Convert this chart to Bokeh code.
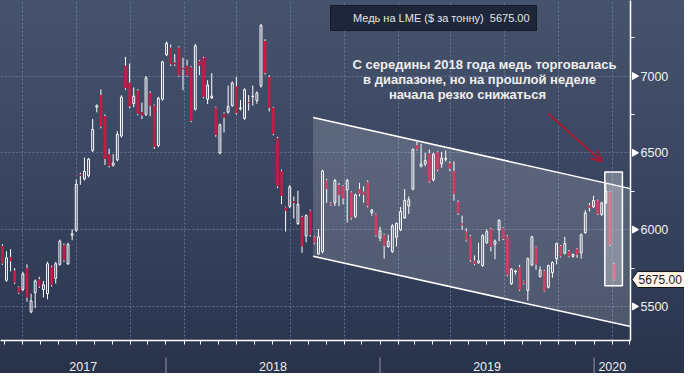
import math
import pandas as pd
from bokeh.plotting import figure
from bokeh.models import (FixedTicker, MonthsTicker, CustomJSTickFormatter, Label,
                          Legend, LegendItem, Arrow, OpenHead, ColumnDataSource)
from bokeh.core.properties import value
from bokeh.embed import file_html
from bokeh.resources import INLINE

# ---------------- data (weekly LME copper, $/t) ----------------
first_week = "2017-03-28"
opens = [5894, 5670, 5822, 5732, 5625, 5610, 5749, 5465, 5589, 5676,
         5610, 5583, 5753, 5682, 5774, 5898, 5778, 5963, 5996, 6359,
         6330, 6351, 6516, 6797, 6876, 6739, 6490, 6419, 6454, 6610,
         7067, 6956, 6821, 6905, 6765, 6751, 6890, 6807, 6548, 6849,
         7139, 7185, 7087, 7185, 7052, 7067, 7056, 6784, 7098, 7118,
         6849, 6859, 6793, 6499, 6755, 6765, 6807, 6932, 6787, 6724,
         6831, 6865, 6841, 6937, 7228, 6994, 6793, 6594, 6382, 6143,
         6152, 6185, 6040, 6082, 5959, 6122, 5953, 5842, 5857, 6320,
         6174, 6174, 6289, 6282, 6258, 6241, 6085, 6264, 6247, 6309,
         6112, 6098, 5946, 5967, 5890, 5857, 5950, 5998, 6077, 6154,
         6264, 6548, 6413, 6429, 6496, 6324, 6502, 6429, 6458, 6434,
         6382, 6180, 6040, 5987, 5956, 5797, 5784, 5766, 5915, 6004,
         5905, 5998, 6009, 5956, 5648, 5724, 5755, 5662, 5604, 5770,
         5883, 5695, 5730, 5625, 5720, 5811, 5892, 5846, 5861, 5826,
         5874, 5849, 5981, 6160, 6149, 6188, 6098, 6174, 6244, 5777]
highs = [5905, 5859, 5873, 5749, 5632, 5724, 5774, 5583, 5675, 5693,
         5666, 5790, 5765, 5790, 5935, 5910, 5915, 6002, 6326, 6370,
         6469, 6467, 6720, 6815, 6913, 6750, 6527, 6492, 6641, 6875,
         7125, 7081, 6925, 6915, 6828, 7000, 6900, 6815, 6865, 7100,
         7226, 7205, 7143, 7195, 7118, 7106, 7065, 7210, 7105, 7125,
         6973, 7019, 6800, 6690, 6765, 6938, 6965, 6994, 6844, 6920,
         6876, 6938, 6900, 7340, 7240, 7005, 6800, 6604, 6390, 6150,
         6290, 6216, 6253, 6090, 6100, 6130, 5960, 6004, 6390, 6330,
         6180, 6330, 6305, 6290, 6330, 6250, 6235, 6305, 6282, 6320,
         6135, 6105, 6019, 5975, 5967, 6035, 6048, 6147, 6264, 6216,
         6530, 6575, 6558, 6500, 6521, 6500, 6510, 6506, 6516, 6444,
         6444, 6190, 6091, 6009, 5965, 5832, 5915, 5970, 6002, 6012,
         5935, 6068, 6016, 5965, 5749, 5738, 5770, 5668, 5818, 5960,
         5890, 5760, 5738, 5772, 5793, 5916, 5900, 5953, 5868, 5845,
         5880, 5975, 6127, 6174, 6220, 6195, 6182, 6299, 6250, 5785]
lows = [5770, 5660, 5728, 5645, 5580, 5600, 5531, 5455, 5489, 5620,
        5558, 5546, 5630, 5649, 5765, 5790, 5770, 5931, 5985, 6292,
        6320, 6340, 6505, 6764, 6660, 6421, 6405, 6410, 6445, 6600,
        6910, 6790, 6797, 6745, 6720, 6740, 6739, 6525, 6535, 6840,
        7130, 7065, 7065, 6995, 6907, 6995, 6700, 6775, 7006, 6855,
        6818, 6850, 6605, 6490, 6633, 6755, 6800, 6750, 6776, 6715,
        6776, 6807, 6820, 6925, 7010, 6770, 6615, 6270, 6166, 5987,
        6140, 6073, 6030, 5849, 5917, 5955, 5905, 5835, 5845, 6174,
        6155, 6154, 6154, 6164, 6046, 6065, 6075, 6216, 6174, 6145,
        6091, 5955, 5925, 5811, 5882, 5848, 5890, 5990, 6070, 6102,
        6255, 6515, 6405, 6413, 6305, 6315, 6380, 6403, 6444, 6382,
        6189, 6095, 5998, 5922, 5790, 5768, 5778, 5758, 5908, 5857,
        5807, 5925, 5932, 5697, 5640, 5707, 5600, 5642, 5537, 5762,
        5738, 5688, 5597, 5617, 5687, 5774, 5818, 5838, 5820, 5818,
        5816, 5811, 5973, 6118, 6141, 6095, 6090, 6166, 5893, 5668]
closes = [5780, 5816, 5794, 5656, 5589, 5712, 5558, 5536, 5666, 5631,
          5641, 5778, 5641, 5778, 5925, 5801, 5903, 5973, 6295, 6351,
          6380, 6459, 6652, 6807, 6672, 6460, 6415, 6434, 6620, 6863,
          6921, 6803, 6869, 6755, 6745, 6988, 6807, 6538, 6855, 7092,
          7212, 7077, 7077, 7004, 7045, 7004, 6709, 7197, 7067, 6863,
          6942, 6869, 6616, 6683, 6729, 6801, 6955, 6760, 6793, 6911,
          6825, 6869, 6890, 7330, 7021, 6792, 6625, 6282, 6220, 6122,
          6278, 6174, 6164, 5892, 6091, 5967, 5914, 5953, 6382, 6264,
          6164, 6320, 6226, 6205, 6320, 6075, 6226, 6233, 6226, 6154,
          6127, 5963, 5992, 5894, 5925, 6025, 6040, 6118, 6189, 6195,
          6521, 6523, 6427, 6449, 6314, 6490, 6388, 6465, 6463, 6398,
          6233, 6106, 6029, 5931, 5801, 5776, 5797, 5961, 5987, 5890,
          5925, 6060, 5940, 5705, 5743, 5730, 5607, 5649, 5811, 5953,
          5773, 5735, 5604, 5766, 5786, 5909, 5826, 5909, 5827, 5838,
          5838, 5967, 6108, 6143, 6189, 6102, 6174, 6251, 5902, 5675]

y_ticks = [5500, 6000, 6500, 7000]
y_minor_ticks = [5750, 6250, 6750, 7250]
last_price = 5675.00
series_name = "Медь на LME ($ за тонну)"
note_lines = ["С середины 2018 года медь торговалась",
              "в диапазоне, но на прошлой неделе",
              "начала резко снижаться"]
# trading channel (start date, upper values at start/end, lower values at start/end)
channel_start = "2018-09-08 19:00"
channel_upper = [6730, 6267]
channel_lower = [5826, 5369]
# highlighted last weeks
box_dates = ["2020-01-19 07:00", "2020-02-18 07:00"]
box_values = [5635, 6376]
# arrow
arrow_dates = ["2019-10-14 17:00", "2020-01-14 07:00"]
arrow_values = [6755, 6444]

# ---------------- layout constants ----------------
W, H = 684, 373
BR, BB = 54, 32
FW, FH = W - BR, H - BB
x_start = pd.Timestamp("2017-03-24 20:00")
x_end = pd.Timestamp("2020-03-03 02:00")
y_lo, y_hi = 5278, 7492
RED = "#c81a42"
WHITE = "#ffffff"
DAY = 86400000.0


def ms(t):
    return pd.Timestamp(t).value / 1e6


def px_x(px):  # frame pixel -> ms
    return ms(x_start) + px / FW * (ms(x_end) - ms(x_start))


def px_y(px_below):  # pixels below frame bottom -> value
    return y_lo - px_below * (y_hi - y_lo) / FH


dates = pd.date_range(first_week, periods=len(opens), freq="7D")
df = pd.DataFrame(dict(date=dates, open=opens, high=highs, low=lows, close=closes))
df["top"] = df[["open", "close"]].max(axis=1)
df["bot"] = df[["open", "close"]].min(axis=1)
src_all = ColumnDataSource(df)
src_up = ColumnDataSource(df[df.close >= df.open])
src_dn = ColumnDataSource(df[df.close < df.open])

p = figure(width=W, height=H, x_axis_type="datetime", y_axis_location="right",
           x_range=(x_start, x_end), y_range=(y_lo, y_hi),
           output_backend="svg", toolbar_location=None,
           min_border_left=0, min_border_top=0, min_border_right=BR, min_border_bottom=BB)
p.background_fill_alpha = 0
p.border_fill_alpha = 0
p.outline_line_color = None
p.styles = {"background": "linear-gradient(180deg, #46536c 0%, #3c4863 40%, #313c57 75%, #29324b 100%)"}

# grid
p.ygrid.grid_line_color = "#7388a8"
p.ygrid.grid_line_alpha = 0.7
p.ygrid.grid_line_dash = "2 2"
p.xgrid.ticker = MonthsTicker(months=[1, 4, 7, 10])
p.xgrid.grid_line_color = "#7388a8"
p.xgrid.grid_line_alpha = 0.7
p.xgrid.grid_line_dash = "2 2"

# candles
p.segment(x0="date", y0="high", x1="date", y1="top", source=src_all, line_color=WHITE, line_width=1)
p.segment(x0="date", y0="bot", x1="date", y1="low", source=src_all, line_color=WHITE, line_width=1)
p.vbar(x="date", width=3.2 * DAY, top="top", bottom="bot", source=src_up,
       fill_alpha=0, line_color=WHITE, line_width=1)
p.vbar(x="date", width=4.6 * DAY, top="top", bottom="bot", source=src_dn,
       fill_color=RED, line_color=None)

# channel
cx = [ms(channel_start), ms(x_end), ms(x_end), ms(channel_start)]
cy = [channel_upper[0], channel_upper[1], channel_lower[1], channel_lower[0]]
p.patch(cx, cy, fill_color=WHITE, fill_alpha=0.16, line_color=None)
p.line([ms(channel_start), ms(x_end)], channel_upper, line_color=WHITE, line_width=1.5)
p.line([ms(channel_start), ms(x_end)], channel_lower, line_color=WHITE, line_width=1.5)

# highlight box
p.quad(left=[ms(box_dates[0])], right=[ms(box_dates[1])], bottom=[box_values[0]], top=[box_values[1]],
       fill_color=WHITE, fill_alpha=0.3, line_color=WHITE, line_width=1.5)

# arrow
ARROW = "#a31b32"
p.add_layout(Arrow(end=OpenHead(size=11, line_color=ARROW, line_width=2),
                   x_start=ms(arrow_dates[0]), y_start=arrow_values[0],
                   x_end=ms(arrow_dates[1]), y_end=arrow_values[1],
                   line_color=ARROW, line_width=2))

# annotation text
note_pos = [(484, 276), (479, 261), (467, 246)]
for txt, (lx, ly) in zip(note_lines, note_pos):
    p.add_layout(Label(x=lx, y=ly, x_units="screen", y_units="screen", text=txt,
                       text_align="center", text_baseline="middle",
                       text_font="Liberation Sans", text_font_style="bold",
                       text_font_size="13px", text_color="#eeeeee"))

# legend
dummy = p.quad(left=[], right=[], top=[], bottom=[], fill_color="#fff3ec", line_color="#fff3ec")
legend = Legend(items=[LegendItem(label=f"{series_name}  {last_price:.2f}", renderers=[dummy])],
                location=(330, 309), orientation="horizontal",
                label_text_font="Liberation Sans", label_text_font_size="11px",
                label_text_color="#e6e6e6", background_fill_color="#1e2739",
                background_fill_alpha=1, border_line_color="#0b0f18", border_line_width=1,
                glyph_width=10, glyph_height=10, label_standoff=6, padding=6, margin=0,
                spacing=0, label_height=12)
p.add_layout(legend)

# x axis: monthly minor ticks, year labels centred on visible part of each year
years = list(range(x_start.year, x_end.year + 1))
year_mids = []
for yr in years:
    a = max(ms(f"{yr}-01-01"), ms(x_start))
    b = min(ms(f"{yr + 1}-01-01"), ms(x_end))
    year_mids.append((a + b) / 2)
months = [ms(d) for d in pd.date_range("2017-04-01", "2020-03-01", freq="MS")]
xa = p.xaxis[0]
xa.ticker = FixedTicker(ticks=year_mids, minor_ticks=months)
xa.formatter = CustomJSTickFormatter(code="return String(new Date(tick).getUTCFullYear());")
xa.major_tick_out = 0
xa.major_tick_in = 0
xa.minor_tick_out = 4
xa.minor_tick_in = 0
xa.minor_tick_line_color = WHITE
xa.axis_line_color = WHITE
xa.axis_line_width = 1.5
xa.major_label_standoff = 17
xa.major_label_text_color = "#eeeeee"
xa.major_label_text_font = "Liberation Sans"
xa.major_label_text_font_size = "12.5px"

# year separators below the axis
jan1 = [ms(f"{yr}-01-01") for yr in years[1:]]
p.segment(x0=jan1, y0=[px_y(17)] * len(jan1), x1=jan1, y1=[px_y(34)] * len(jan1),
          line_color="#8d96aa", line_width=1, level="overlay")

# y axis
ya = p.yaxis[0]
ya.ticker = FixedTicker(ticks=y_ticks, minor_ticks=y_minor_ticks)
ya.major_tick_out = 8
ya.major_tick_in = 0
ya.major_tick_line_alpha = 0
ya.minor_tick_out = 4
ya.minor_tick_in = 0
ya.minor_tick_line_color = WHITE
ya.axis_line_color = WHITE
ya.axis_line_width = 1.5
ya.major_label_standoff = 2
ya.major_label_text_color = "#f2f2f2"
ya.major_label_text_font = "Liberation Sans"
ya.major_label_text_font_size = "12.5px"
# triangular tick flags
p.scatter(x=[px_x(FW + 4)] * len(y_ticks), y=y_ticks, marker="triangle", angle=-math.pi / 2,
          size=7, fill_color=WHITE, line_color=WHITE, level="overlay")

# last price tag
half = 8 * (y_hi - y_lo) / FH
tx = [px_x(FW + 1.5), px_x(FW + 7), px_x(FW + 70), px_x(FW + 70), px_x(FW + 7)]
ty = [last_price, last_price + half, last_price + half, last_price - half, last_price - half]
p.patch(tx, ty, fill_color="#fff4ec", line_color="#111111", line_width=1, level="overlay")
p.text(x=[px_x(FW + 8)], y=[last_price], text=[f"{last_price:.2f}"], text_align="left",
       text_baseline="middle", text_font=value("Liberation Sans"), text_font_size="12px",
       text_color="#1a1a1a", level="overlay")

open("out.html", "w").write(file_html(p, INLINE))
